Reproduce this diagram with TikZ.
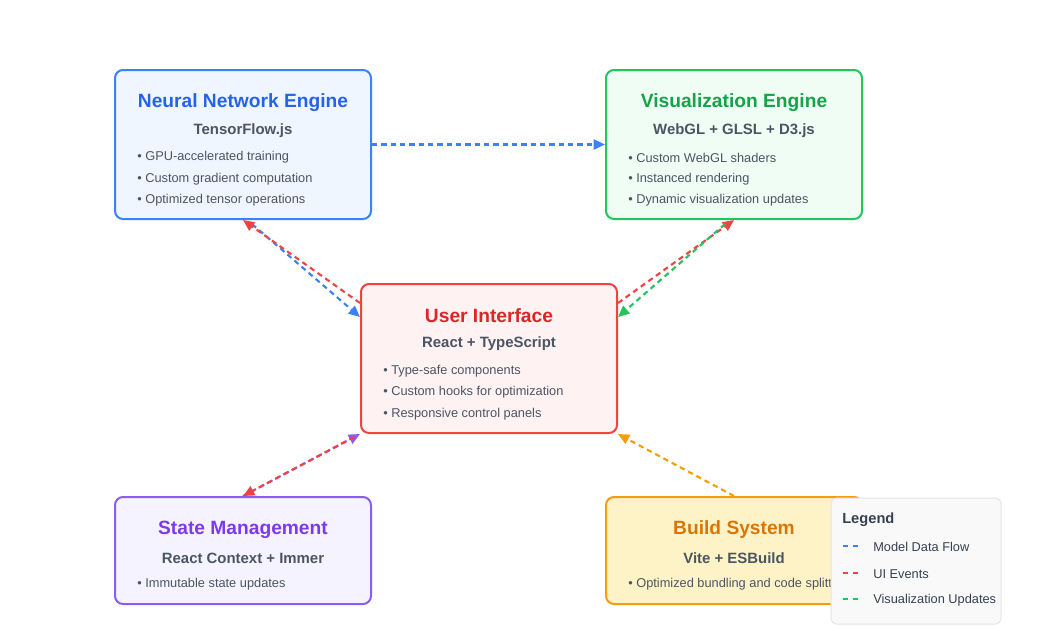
\documentclass[tikz,border=0pt]{standalone}
\usepackage{fontspec}
\setmainfont{Liberation Sans}
\usetikzlibrary{arrows.meta,calc}

\definecolor{nnline}{HTML}{3B82F6}
\definecolor{nnfill}{HTML}{EFF6FF}
\definecolor{nntext}{HTML}{2563EB}
\definecolor{vizline}{HTML}{22C55E}
\definecolor{vizfill}{HTML}{F0FDF4}
\definecolor{viztext}{HTML}{16A34A}
\definecolor{uiline}{HTML}{EF4444}
\definecolor{uifill}{HTML}{FEF2F2}
\definecolor{uitext}{HTML}{DC2626}
\definecolor{stline}{HTML}{8B5CF6}
\definecolor{stfill}{HTML}{F5F3FF}
\definecolor{sttext}{HTML}{7C3AED}
\definecolor{bdline}{HTML}{F59E0B}
\definecolor{bdfill}{HTML}{FEF3C7}
\definecolor{bdtext}{HTML}{D97706}
\definecolor{subgray}{HTML}{4B5563}
\definecolor{itemgray}{HTML}{4B5563}
\definecolor{leggray}{HTML}{374151}

\tikzset{
  box/.style={draw,line width=1.5pt,rounded corners=6pt,minimum width=192pt,inner sep=0pt},
  tallbox/.style={box,minimum height=111.75pt},
  lowbox/.style={box,minimum height=80.25pt},
  title/.style={font=\fontsize{14.4}{17}\selectfont\bfseries,inner sep=0pt},
  sub/.style={font=\fontsize{11.2}{13}\selectfont\bfseries,text=subgray,inner sep=0pt},
  item/.style={font=\fontsize{9.6}{12}\selectfont,text=itemgray,anchor=west,inner sep=0pt},
  conn/.style={line width=1.6pt,dash pattern=on 4pt off 3pt,-{Triangle[length=8.5pt,width=7.5pt]}},
  legtext/.style={font=\fontsize{9.6}{12}\selectfont,text=leggray,anchor=west,inner sep=0pt}
}

\begin{document}
\begin{tikzpicture}[x=0.75pt,y=-0.75pt]
  \useasboundingbox (0,0) rectangle (1042,625);

  % boxes
  \node[tallbox,draw=nnline,fill=nnfill] (nn) at (243,144.5) {};
  \node[tallbox,draw=vizline,fill=vizfill] (viz) at (734,144.5) {};
  \node[tallbox,draw=uiline,fill=uifill] (ui) at (489,358.5) {};
  \node[lowbox,draw=stline,fill=stfill] (state) at (243,550.5) {};
  \node[lowbox,draw=bdline,fill=bdfill] (build) at (734,550.5) {};

  % neural network engine
  \node[title,text=nntext] (nnT) at (243,103) {Neural Network Engine};
  \node[sub] (nnS) at (243,131) {TensorFlow.js};
  \node[item] (nn1) at (137,157.5) {• GPU-accelerated training};
  \node[item] (nn2) at (137,179.5) {• Custom gradient computation};
  \node[item] (nn3) at (137,200.5) {• Optimized tensor operations};

  % visualization engine
  \node[title,text=viztext] (vizT) at (734,103) {Visualization Engine};
  \node[sub] (vizS) at (734,131) {WebGL + GLSL + D3.js};
  \node[item] (viz1) at (628,157.5) {• Custom WebGL shaders};
  \node[item] (viz2) at (628,179.5) {• Instanced rendering};
  \node[item] (viz3) at (628,200.5) {• Dynamic visualization updates};

  % user interface
  \node[title,text=uitext] (uiT) at (489,316) {User Interface};
  \node[sub] (uiS) at (489,344) {React + TypeScript};
  \node[item] (ui1) at (383,371.5) {• Type-safe components};
  \node[item] (ui2) at (383,392.5) {• Custom hooks for optimization};
  \node[item] (ui3) at (383,414.5) {• Responsive control panels};

  % state management
  \node[title,text=sttext] (stT) at (243,530) {State Management};
  \node[sub] (stS) at (243,558) {React Context + Immer};
  \node[item] (st1) at (137,584.5) {• Immutable state updates};

  % build system
  \node[title,text=bdtext] (bdT) at (734,530) {Build System};
  \node[sub] (bdS) at (734,558) {Vite + ESBuild};
  \node[item] (bd1) at (628,584.5) {• Optimized bundling and code splitting};

  % connectors
  \draw[conn,nnline] (nn.east) -- (viz.west);
  \draw[conn,nnline] ($(nn.south)+(9,4)$) -- ($(ui.north west)+(0,34)$);
  \draw[conn,uiline] ($(ui.north west)+(0,20)$) -- (nn.south);
  \draw[conn,uiline] ($(ui.north east)+(0,20)$) -- (viz.south);
  \draw[conn,vizline] ($(viz.south)+(-9,4)$) -- ($(ui.north east)+(0,34)$);
  \draw[conn,stline] (state.north) -- (ui.south west);
  \draw[conn,uiline] ($(ui.south west)+(-6,3)$) -- (state.north);
  \draw[conn,bdline] (build.north) -- (ui.south east);

  % legend
  \node[draw=black!10,fill=black!2.5,line width=0.75pt,rounded corners=4pt,
        minimum width=127.5pt,minimum height=94.5pt,inner sep=0pt] (leg) at (916,561) {};
  \node[anchor=west,inner sep=0pt,font=\fontsize{11}{13}\selectfont\bfseries,text=leggray] (legT) at (842,520) {Legend};
  \coordinate (m1) at (843,546); \coordinate (m2) at (858,546);
  \coordinate (e1) at (843,573); \coordinate (e2) at (858,573);
  \coordinate (v1) at (843,599); \coordinate (v2) at (858,599);
  \draw[nnline,line width=1.5pt,dash pattern=on 3.75pt off 3.75pt] (m1) -- (m2);
  \draw[uiline,line width=1.5pt,dash pattern=on 3.75pt off 3.75pt] (e1) -- (e2);
  \draw[vizline,line width=1.5pt,dash pattern=on 3.75pt off 3.75pt] (v1) -- (v2);
  \node[legtext] (legM) at (873,547) {Model Data Flow};
  \node[legtext] (legE) at (873,574) {UI Events};
  \node[legtext] (legV) at (873,600) {Visualization Updates};
\end{tikzpicture}
\end{document}
